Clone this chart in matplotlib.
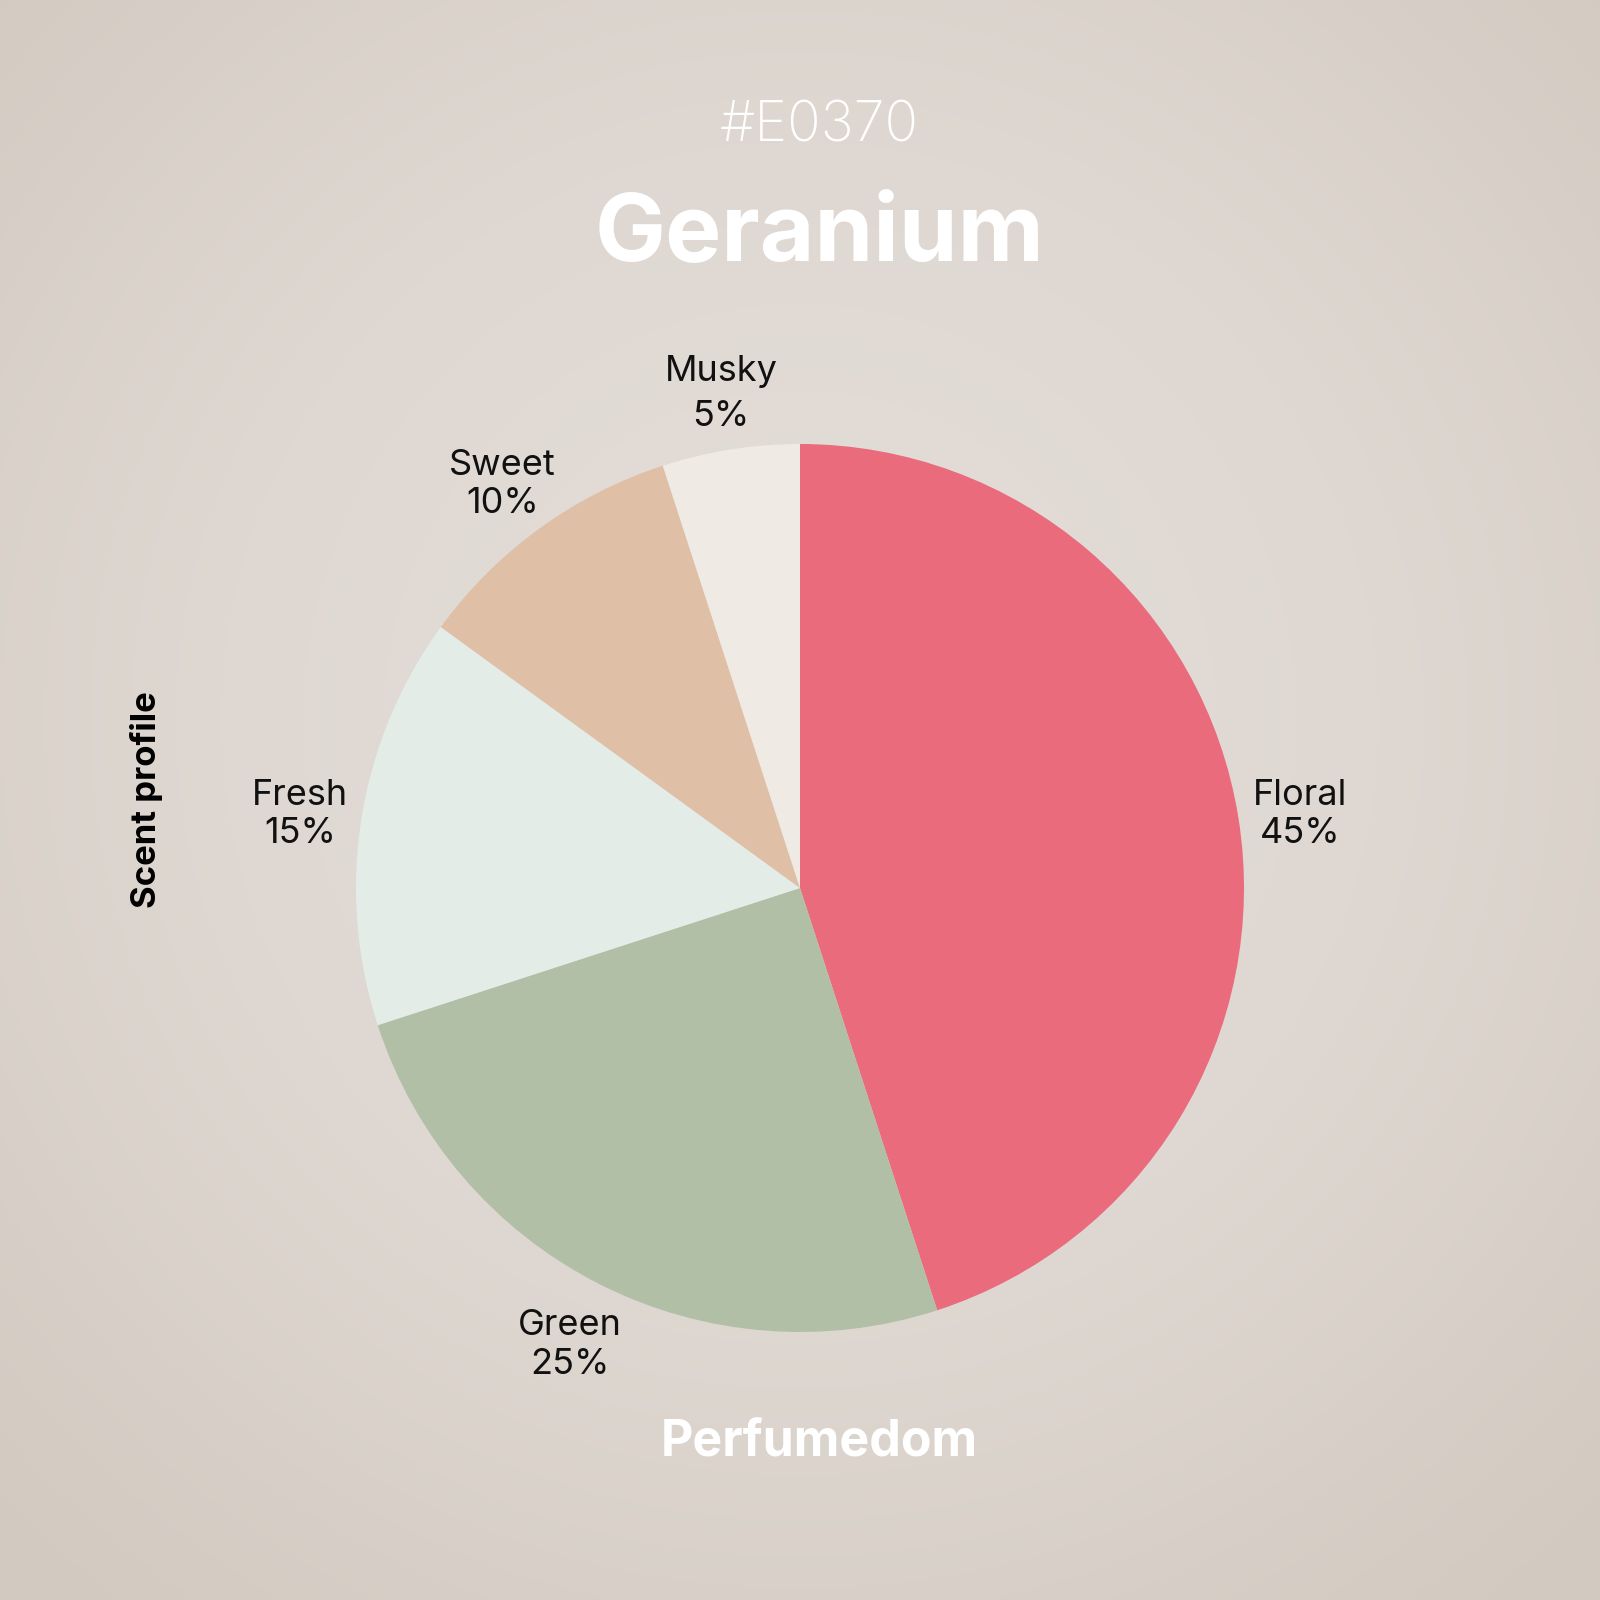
import numpy as np
import matplotlib.pyplot as plt
from matplotlib.colors import LinearSegmentedColormap
from matplotlib.transforms import offset_copy

# data
notes = ["Floral", "Green", "Fresh", "Sweet", "Musky"]
shares = [45, 25, 15, 10, 5]
colors = ["#EA6B7B", "#B2BFA7", "#E3ECE7", "#DFC0A7", "#EFEAE4"]

code = "#E0370"
name = "Geranium"
brand = "Perfumedom"

plt.rcParams['font.family'] = ['Inter', 'DejaVu Sans']

fig = plt.figure(figsize=(16, 16), dpi=100)

# radial gradient background
bg = fig.add_axes([0, 0, 1, 1])
yy, xx = np.mgrid[-1:1:400j, -1:1:400j]
rr = np.sqrt(xx**2 + (yy + 0.1)**2)
cmap = LinearSegmentedColormap.from_list("bg", ["#E4DED9", "#DFD8D2", "#D2C9C0"])
bg.imshow(np.clip(rr / 1.45, 0, 1), cmap=cmap, extent=[0, 1, 0, 1], aspect='auto', vmin=0, vmax=1)
bg.axis('off')

# pie
ax = fig.add_axes([0.2225, 0.1675, 0.555, 0.555])
labels = [f"{n}\n{s}%" for n, s in zip(notes, shares)]
wedges, texts = ax.pie(shares, labels=labels, colors=colors, startangle=90, counterclock=False,
                       labeldistance=1.14, wedgeprops=dict(linewidth=0),
                       textprops=dict(fontsize=26, color="#111111"))
for t in texts:
    t.set_ha('center')
    t.set_va('center')
    t.set_linespacing(1.2)
    # nudge labels slightly down
    t.set_transform(offset_copy(ax.transData, fig=fig, x=0, y=-6, units='dots'))
texts[-1].set_linespacing(1.45)
ax.set_xlim(-1, 1)
ax.set_ylim(-1, 1)
ax.set_aspect('equal')
ax.axis('off')

fig.text(0.512, 0.921, code, ha='center', va='center', fontsize=40, color='white', fontweight='light')
fig.text(0.512, 0.852, name, ha='center', va='center', fontsize=68, color='white', fontweight='bold')
fig.text(0.512, 0.098, brand, ha='center', va='center', fontsize=36, color='white', fontweight='bold')
fig.text(0.0915, 0.5, "Scent profile", ha='center', va='center', rotation=90, fontsize=25,
         color='black', fontweight='bold')

fig.savefig("out.png", dpi=100)
